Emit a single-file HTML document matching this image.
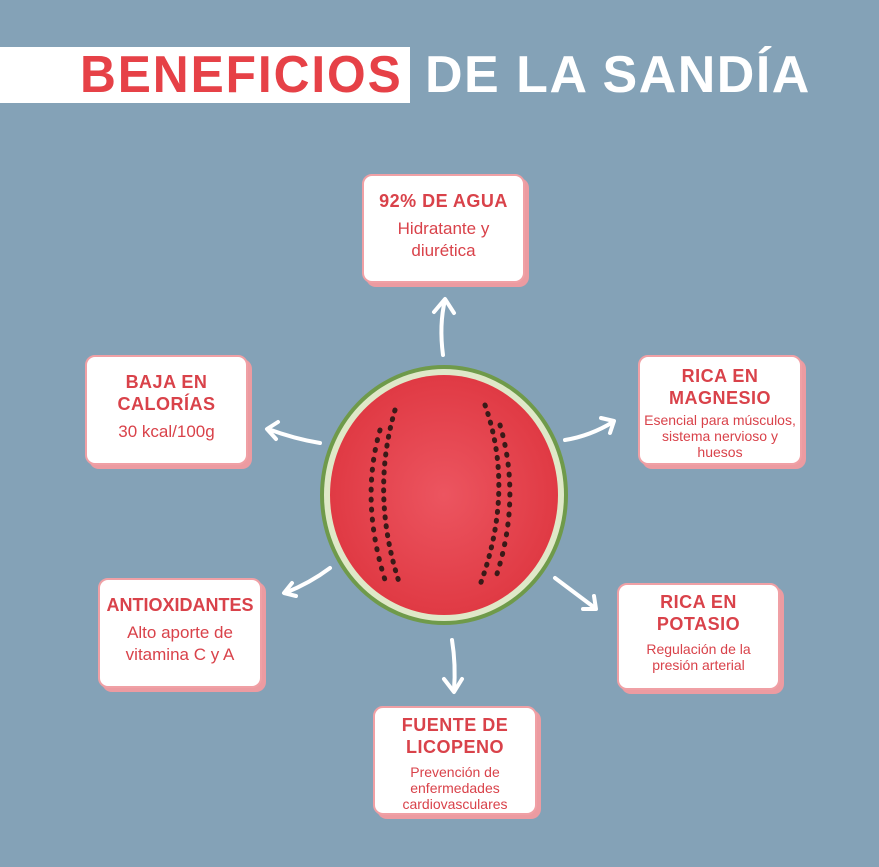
<!DOCTYPE html>
<html><head><meta charset="utf-8"><style>
body{margin:0;width:879px;height:867px;background:#84a2b7;position:relative;overflow:hidden;font-family:"Liberation Sans",sans-serif}
.banner{position:absolute;left:0;top:47px;width:410px;height:56px;background:#fff}
.t{position:absolute;top:44px;font-weight:bold;font-size:52px;letter-spacing:2px;line-height:62px;transform-origin:left}
.box{position:absolute;background:#fff;border:2px solid #f0a0a5;border-radius:10px;box-shadow:4px 4px 0 #ec9ba1;text-align:center;color:#d9424a;box-sizing:border-box}
.box h{display:block;font-weight:bold;font-size:18px;letter-spacing:0.5px;line-height:22px;margin-top:14px}
.box p{margin:6px 0 0;font-size:17px;line-height:22px}
.box p.s{font-size:14px;line-height:16px}
</style></head><body>
<div class="banner"></div>
<div class="t" style="left:80px;color:#e64147;transform:scaleX(0.955)">BENEFICIOS</div>
<div class="t" style="left:425px;color:#fff;letter-spacing:1.5px">DE LA SANDÍA</div>

<svg width="879" height="867" style="position:absolute;left:0;top:0">
<defs><radialGradient id="f" cx="50%" cy="50%" r="50%"><stop offset="0" stop-color="#ec5560"/><stop offset="1" stop-color="#e03a44"/></radialGradient></defs>
<ellipse cx="444" cy="495" rx="124" ry="130" fill="#6f9a4a"/>
<ellipse cx="444" cy="495" rx="120" ry="126" fill="#dfe8c8"/>
<ellipse cx="444" cy="495" rx="114" ry="120" fill="url(#f)"/>
<g fill="none" stroke="#3a1a18" stroke-linecap="round">
<path d="M395 410 q-25 85 5 175" stroke-width="5" stroke-dasharray="1 8"/>
<path d="M380 430 q-20 70 5 150" stroke-width="5" stroke-dasharray="1 9"/>
<path d="M485 405 q30 85 -5 180" stroke-width="5" stroke-dasharray="1 8"/>
<path d="M500 425 q22 75 -5 155" stroke-width="5" stroke-dasharray="1 9"/>
</g>
<g stroke="#fff" stroke-width="4" fill="none" stroke-linecap="round" stroke-linejoin="round">
<path d="M443 355 q-4 -30 2 -55"/><path d="M434 312 l11 -13 l9 14"/>
<path d="M320 443 q-25 -4 -52 -14"/><path d="M278 422 l-11 7 l9 10"/>
<path d="M565 440 q25 -4 48 -18"/><path d="M601 418 l13 3 l-4 12"/>
<path d="M330 568 q-20 15 -45 25"/><path d="M292 583 l-8 10 l12 3"/>
<path d="M555 578 q20 15 40 30"/><path d="M583 609 l13 0 l-2 -13"/>
<path d="M452 640 q4 25 2 50"/><path d="M444 679 l10 13 l8 -13"/>
</g>
</svg>

<div class="box" style="left:362px;top:174px;width:163px;height:109px"><h>92% DE AGUA</h><p>Hidratante y<br>diurética</p></div>
<div class="box" style="left:85px;top:355px;width:163px;height:110px"><h>BAJA EN<br>CALORÍAS</h><p>30 kcal/100g</p></div>
<div class="box" style="left:638px;top:355px;width:164px;height:110px"><h style="margin-top:8px">RICA EN<br>MAGNESIO</h><p class="s" style="margin-top:3px">Esencial para músculos, sistema nervioso y huesos</p></div>
<div class="box" style="left:98px;top:578px;width:164px;height:110px"><h style="letter-spacing:0">ANTIOXIDANTES</h><p>Alto aporte de<br>vitamina C y A</p></div>
<div class="box" style="left:617px;top:583px;width:163px;height:107px"><h style="margin-top:6px">RICA EN<br>POTASIO</h><p class="s">Regulación de la<br>presión arterial</p></div>
<div class="box" style="left:373px;top:706px;width:164px;height:109px"><h style="margin-top:6px">FUENTE DE<br>LICOPENO</h><p class="s">Prevención de<br>enfermedades<br>cardiovasculares</p></div>
</body></html>
